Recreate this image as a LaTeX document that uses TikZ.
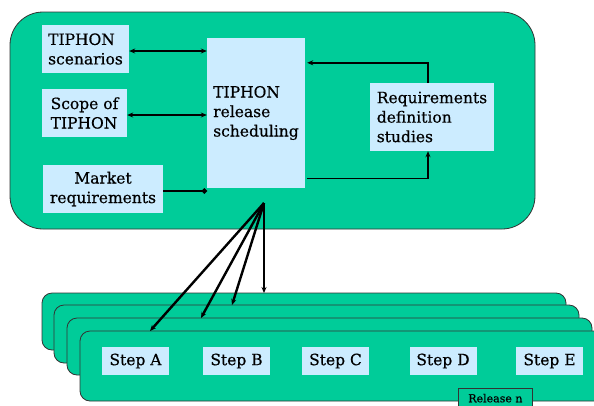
\documentclass[tikz,border=0pt]{standalone}
\usepackage{fontspec}
\setmainfont{DejaVu Serif}
\newfontfamily\labelfont{DejaVu Serif}[FakeBold=0.5]
\usetikzlibrary{arrows.meta}

\definecolor{panelgreen}{RGB}{0,204,153}
\definecolor{boxblue}{RGB}{204,236,255}

\begin{document}
\begin{tikzpicture}[x=1pt, y=-1pt,
    panel/.style={draw=black!80, fill=panelgreen, line width=0.8pt},
    infobox/.style={fill=boxblue, inner sep=0pt, align=left,
        font=\labelfont\fontsize{15.5}{19.5}\selectfont},
    stepbox/.style={fill=boxblue, inner sep=0pt, minimum width=67pt,
        minimum height=28pt, font=\labelfont\fontsize{15.5}{19.5}\selectfont},
    link/.style={line width=1.8pt, {Stealth[length=6pt,width=5pt]}-{Stealth[length=6pt,width=5pt]}},
    feed/.style={line width=1.4pt, -{Stealth[length=6pt,width=5pt]}},
    fan/.style={line width=2.4pt, -{Stealth[length=6pt,width=5pt]}}]
    \useasboundingbox (0,0) rectangle (594,405);

    % Draw the TIPHON panel
    \draw[panel, rounded corners=33pt] (10,12) rectangle (535,229);

    % Boxes
    \node[infobox, minimum width=87pt, minimum height=48pt] (scen) at (85.5,49) {TIPHON\\scenarios};
    \node[infobox, minimum width=85pt, minimum height=48pt] (scope) at (84.5,113) {Scope of\\TIPHON};
    \node[infobox, align=center, minimum width=120pt, minimum height=48pt] (mkt) at (103,189) {Market\\requirements};
    \node[infobox, minimum width=98pt, minimum height=150pt] (sched) at (256,113) {TIPHON\\release\\scheduling};
    \node[infobox, minimum width=124pt, minimum height=68pt] (req) at (432,117) {Requirements\\definition\\studies};

    % Connections
    \draw[link] ([yshift=-2pt]scen.east) -- ([yshift=-2pt]scen.east -| sched.west);
    \draw[link] ([yshift=-2pt]scope.east) -- ([yshift=-2pt]scope.east -| sched.west);
    \draw[line width=2.4pt, -{Circle[length=5pt]}] ([yshift=-2pt]mkt.east) -- ([yshift=-2pt]mkt.east -| sched.west);
    \draw[feed] ([xshift=-4pt]req.north) |- ([xshift=2pt, yshift=-25pt]sched.north east);
    \draw[feed] ([xshift=2pt, yshift=10pt]sched.south east) -| ([xshift=-4pt]req.south);

    % Draw the release panels
    \draw[panel, rounded corners=10pt] (42,293) rectangle (566,350);
    \draw[panel, rounded corners=10pt] (54,305) rectangle (579,363);
    \draw[panel, rounded corners=10pt] (67,318) rectangle (592,375);
    \draw[panel, rounded corners=10pt] (80,331) rectangle (610,401);

    % Steps
    \node[stepbox] (stepA) at (135.5,361) {Step A};
    \node[stepbox] (stepB) at (236.5,361) {Step B};
    \node[stepbox] (stepC) at (335.5,361) {Step C};
    \node[stepbox] (stepD) at (443,361) {Step D};
    \node[stepbox] (stepE) at (549.5,361) {Step E};
    \node[panel, anchor=north west, minimum width=74pt, inner xsep=0pt, inner ysep=5.5pt,
        font=\labelfont\fontsize{11}{13}\selectfont] (reln) at (458,388) {Release n};

    % Fan out to the releases
    \coordinate (src) at (264,203);
    \coordinate (rel1) at (264,293);
    \coordinate (rel2) at (232,305);
    \coordinate (rel3) at (201,318);
    \coordinate (rel4) at (150,331);
    \foreach \r in {rel1,rel2,rel3,rel4}
        \draw[fan] (src) -- (\r);
\end{tikzpicture}
\end{document}
